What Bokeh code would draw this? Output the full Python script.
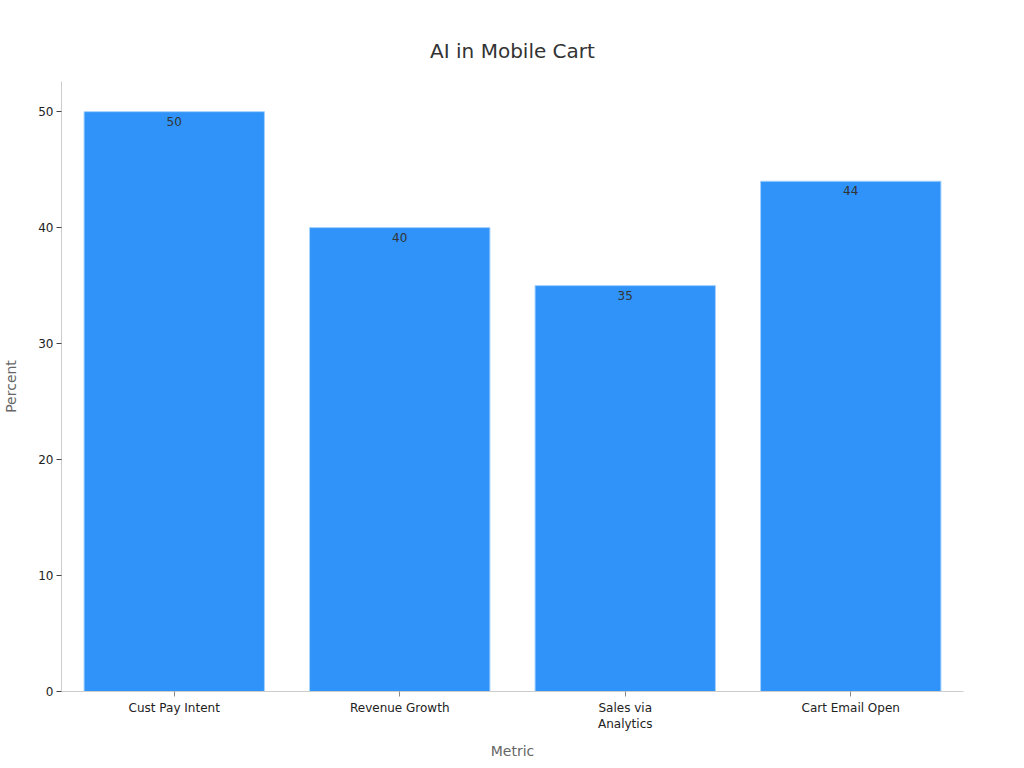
from bokeh.plotting import figure
from bokeh.models import ColumnDataSource, Range1d, FactorRange, Title
from bokeh.embed import file_html
from bokeh.resources import INLINE
from bokeh.core.properties import value

categories = ["Cust Pay Intent", "Revenue Growth", "Sales via\nAnalytics", "Cart Email Open"]
values = [50, 40, 35, 44]
labels = [str(v) for v in values]
y_ticks = [0, 10, 20, 30, 40, 50]
chart_title = "AI in Mobile Cart"

FONT = "DejaVu Sans"

src = ColumnDataSource(dict(cat=categories, val=values, lab=labels))

p = figure(
    x_range=FactorRange(*categories, range_padding=0),
    y_range=Range1d(0, 52.6),
    width=1008, height=762,
    output_backend="svg", toolbar_location=None,
    title=" ",
    min_border_left=60, min_border_right=45,
    min_border_top=80, min_border_bottom=69,
)
p.x_range.factor_padding = 0
p.x_range.group_padding = 0

p.vbar(x="cat", top="val", width=0.8, source=src,
       fill_color="#2F93F9", line_color="#a6d2ff", line_width=1)
p.text(x="cat", y="val", text="lab", source=src,
       text_align="center", text_baseline="top", y_offset=5,
       text_font=value(FONT), text_font_size="12px", text_color="#333333")

# inner blank spacer (the built-in title slot sits next to the frame)
p.title.text_font_size = "1px"
p.title.standoff = 14

# the real title, stacked above the spacer
p.add_layout(Title(text=chart_title, align="center", text_font=FONT,
                   text_font_size="20px", text_font_style="normal",
                   text_color="#333333", standoff=38), "above")

p.outline_line_color = None
p.grid.grid_line_color = None
p.background_fill_color = "white"
p.border_fill_color = "white"

for ax in (p.xaxis[0], p.yaxis[0]):
    ax.axis_line_color = "#cccccc"
    ax.major_label_text_font = FONT
    ax.major_label_text_font_size = "12px"
    ax.major_label_text_color = "#222222"
    ax.axis_label_text_font = FONT
    ax.axis_label_text_font_size = "14px"
    ax.axis_label_text_font_style = "normal"
    ax.axis_label_text_color = "#666666"
    ax.minor_tick_line_color = None
    ax.major_tick_in = 0
    ax.major_tick_out = 5

p.yaxis.ticker = y_ticks
p.yaxis.major_tick_line_color = "#444444"
p.xaxis.major_tick_line_color = "#888888"
p.xaxis.axis_label = "Metric"
p.yaxis.axis_label = "Percent"
p.xaxis.major_label_standoff = 4
p.xaxis.axis_label_standoff = 9
p.yaxis.major_label_standoff = 3
p.yaxis.axis_label_standoff = 16

open("out.html", "w").write(file_html(p, INLINE))
